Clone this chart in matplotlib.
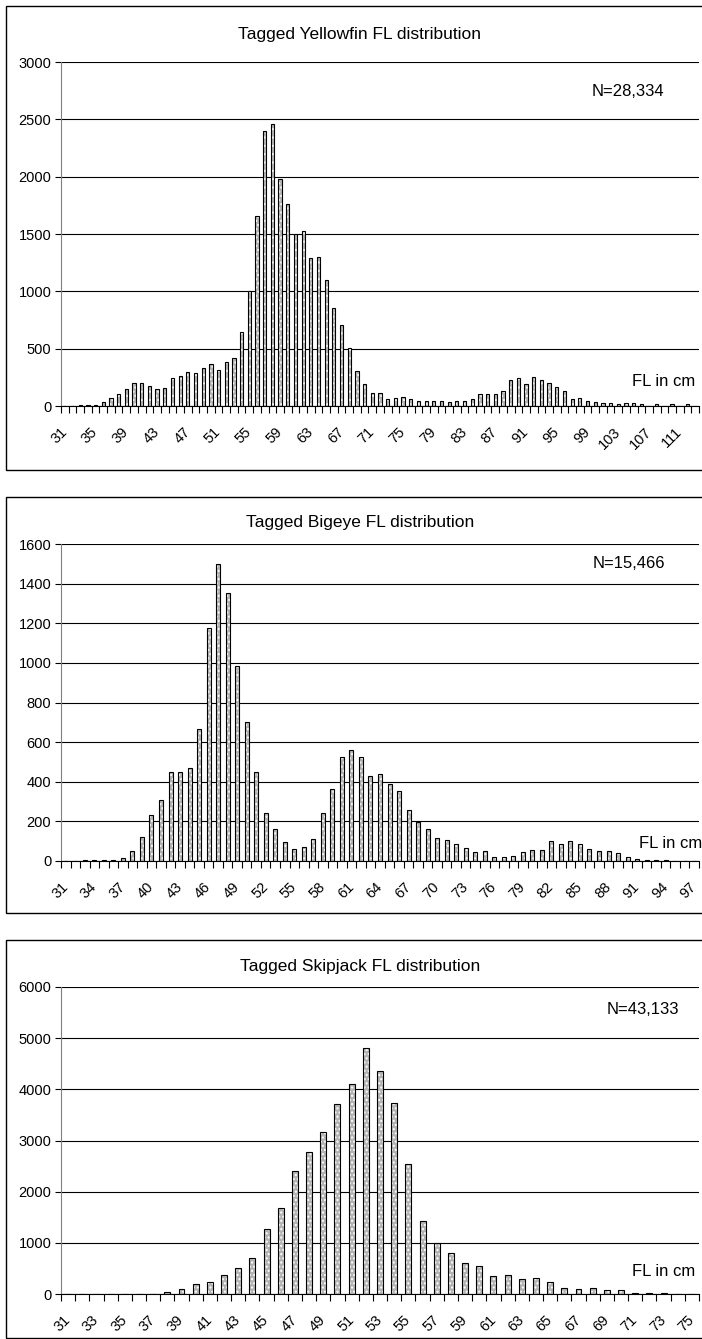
import numpy as np
import matplotlib
matplotlib.use("Agg")
from matplotlib import pyplot as plt
from matplotlib.patches import Rectangle

plt.rcParams['font.family'] = ['Liberation Sans', 'DejaVu Sans']

# ---- data (counts per 1 cm FL class) ----
yft_fl = list(range(31, 114))
yft_n = [0, 0, 12, 12, 12, 35, 68, 103, 147, 200,
         200, 176, 147, 156, 244, 265, 300, 288, 330, 362,
         312, 388, 418, 645, 1000, 1656, 2394, 2458, 1983, 1764,
         1504, 1525, 1289, 1300, 1096, 854, 703, 510, 303, 195,
         111, 111, 59, 74, 76, 59, 47, 47, 47, 41,
         35, 41, 47, 59, 103, 103, 103, 135, 224, 244,
         188, 253, 224, 200, 165, 135, 59, 68, 44, 32,
         26, 26, 20, 26, 26, 18, 0, 15, 0, 15,
         0, 15, 0]

bet_fl = list(range(31, 98))
bet_n = [0, 0, 4, 4, 4, 4, 14, 48, 122, 230,
         309, 447, 451, 468, 665, 1178, 1498, 1352, 983, 704,
         451, 244, 160, 98, 61, 71, 110, 241, 364, 527,
         559, 527, 429, 438, 390, 354, 257, 197, 160, 117,
         105, 88, 66, 44, 48, 20, 20, 27, 43, 54,
         54, 99, 88, 99, 88, 60, 48, 48, 38, 20,
         8, 3, 3, 3, 0, 0, 0]

skj_fl = list(range(31, 76))
skj_n = [0, 0, 0, 0, 0, 0, 0, 46, 91, 195,
         241, 364, 507, 696, 1262, 1685, 2401, 2772, 3175, 3715,
         4095, 4817, 4361, 3742, 2536, 1434, 1005, 800, 610, 555,
         360, 380, 295, 315, 230, 118, 98, 118, 78, 78,
         20, 20, 20, 0, 0]

titles = ['Tagged Yellowfin FL distribution',
          'Tagged Bigeye FL distribution',
          'Tagged Skipjack FL distribution']
n_labels = ['N=28,334', 'N=15,466', 'N=43,133']
ymax = [3000, 1600, 6000]
ystep = [500, 200, 1000]
lab_step = [4, 3, 2]

# ---- layout in pixels (top-down) ----
W, H = 702, 1339
boxes = [(6, 470), (497, 913), (940, 1338)]
plots = [(62, 406), (544, 861), (987, 1294)]
title_y = [35, 522, 966]
n_pos = [(592, 92), (593, 563), (607, 1010)]
fl_pos = [(632, 382), (639, 843), (632, 1272)]
x0, x1 = 61, 699

fig = plt.figure(figsize=(W / 100, H / 100), dpi=100)

def fx(x):
    return x / W

def fy(y):
    return 1 - y / H

datasets = [(yft_fl, yft_n), (bet_fl, bet_n), (skj_fl, skj_n)]

for i, (fl, cnt) in enumerate(datasets):
    bt, bb = boxes[i]
    fig.patches.append(Rectangle((fx(6), fy(bb)), fx(720 - 6), (bb - bt) / H,
                                 transform=fig.transFigure, fill=False,
                                 ec='black', lw=1.0))
    pt, pb = plots[i]
    ax = fig.add_axes([fx(x0), fy(pb), fx(x1 - x0), (pb - pt) / H])
    n = len(fl)
    xs = np.arange(n)
    # dotted fill then black outline
    ax.bar(xs, cnt, width=0.42, facecolor='#b4b4b4', edgecolor='white',
           hatch='....', lw=0, zorder=3)
    ax.bar(xs, cnt, width=0.42, facecolor='none', edgecolor='black',
           lw=0.8, zorder=4)
    ax.set_xlim(-0.5, n - 0.5)
    ax.set_ylim(0, ymax[i])
    ax.set_yticks(np.arange(0, ymax[i] + 1, ystep[i]))
    ax.yaxis.grid(True, color='black', lw=0.8)
    ax.set_axisbelow(True)
    for s in ['top', 'right']:
        ax.spines[s].set_visible(False)
    ax.spines['left'].set_color('#808080')
    ax.spines['bottom'].set_color('black')
    ax.tick_params(axis='y', length=4, width=0.8, color='black',
                   labelsize=10.5, pad=3)
    # boundary ticks on x
    ax.set_xticks(np.arange(-0.5, n, 1.0))
    ax.tick_params(axis='x', which='major', length=5, width=0.8,
                   labelbottom=False)
    centers = xs[::lab_step[i]]
    ax.set_xticks(centers, minor=True)
    ax.set_xticklabels([str(fl[k]) for k in centers], minor=True,
                       rotation=45, ha='right', va='center',
                       rotation_mode='anchor', fontsize=10.5)
    ax.tick_params(axis='x', which='minor', length=0, pad=17)

    fig.text(fx(360), fy(title_y[i]), titles[i], ha='center', va='center',
             fontsize=12.5)
    fig.text(fx(n_pos[i][0]), fy(n_pos[i][1]), n_labels[i], ha='left',
             va='center', fontsize=12)
    fig.text(fx(fl_pos[i][0]), fy(fl_pos[i][1]), 'FL in cm', ha='left',
             va='center', fontsize=12)

fig.savefig('out.png', dpi=100)
